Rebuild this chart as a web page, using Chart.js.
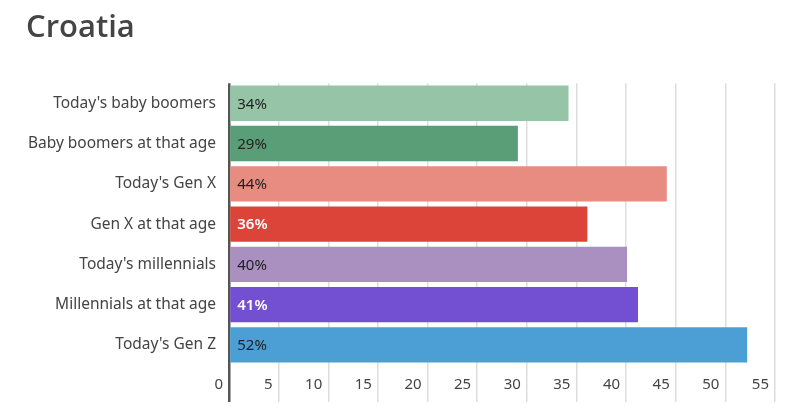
<!DOCTYPE html>
<html>
<head>
<meta charset="utf-8">
<script src="https://cdn.jsdelivr.net/npm/chart.js@4"></script>
<style>
  body { margin: 0; background: #fff; }
  #wrap { width: 795px; height: 412px; }
</style>
</head>
<body>
<div id="wrap"><canvas id="croatiaChart" width="795" height="412"></canvas></div>
<script>
// chart values
const categories = [
    "Today's baby boomers",
    "Baby boomers at that age",
    "Today's Gen X",
    "Gen X at that age",
    "Today's millennials",
    "Millennials at that age",
    "Today's Gen Z"
];
const shares = [34.2, 29.1, 44.1, 36.1, 40.1, 41.2, 52.2];
const tickValues = [0, 5, 10, 15, 20, 25, 30, 35, 40, 45, 50, 55];

// styling
const barColors = ['#96c4a6', '#5a9e77', '#e88b80', '#dc4439', '#aa8fc1', '#7350d1', '#4b9fd5'];
const whiteLabels = [false, false, false, true, false, true, false];
const fontFamily = "'Noto Sans', 'Open Sans', sans-serif";

// draw the "34%" style labels inside each bar
const barLabels = {
    id: 'barLabels',
    afterDatasetsDraw(chart) {
        const ctx = chart.ctx;
        const meta = chart.getDatasetMeta(0);
        ctx.save();
        ctx.textBaseline = 'middle';
        ctx.textAlign = 'left';
        meta.data.forEach((bar, i) => {
            const white = whiteLabels[i];
            ctx.font = (white ? '600 ' : '400 ') + '15px ' + fontFamily;
            ctx.fillStyle = white ? '#ffffff' : '#222222';
            ctx.fillText(Math.round(shares[i]) + '%', bar.base + 7, bar.y + 1);
        });
        ctx.restore();
    }
};

// x tick labels sit inside the long grid ticks, just left of each line
const xTickLabels = {
    id: 'xTickLabels',
    afterDraw(chart) {
        const ctx = chart.ctx;
        const xScale = chart.scales.x;
        ctx.save();
        ctx.font = '15px ' + fontFamily;
        ctx.fillStyle = '#444444';
        ctx.textAlign = 'right';
        ctx.textBaseline = 'middle';
        tickValues.forEach(v => {
            ctx.fillText(String(v), xScale.getPixelForValue(v) - 6, chart.chartArea.bottom + 20);
        });
        ctx.restore();
    }
};

new Chart(document.getElementById('croatiaChart'), {
    type: 'bar',
    data: {
        labels: categories,
        datasets: [{
            data: shares,
            backgroundColor: barColors,
            borderWidth: 0,
            barPercentage: 0.88,
            categoryPercentage: 1
        }]
    },
    options: {
        indexAxis: 'y',
        responsive: false,
        animation: false,
        layout: { padding: { left: 26, right: 20, top: 0, bottom: 10 } },
        plugins: {
            legend: { display: false },
            tooltip: { enabled: false },
            title: {
                display: true,
                text: 'Croatia',
                align: 'start',
                color: '#444444',
                font: { family: "'Open Sans', sans-serif", size: 31, weight: '600' },
                padding: { top: 10, bottom: 36 }
            }
        },
        scales: {
            x: {
                min: 0,
                max: 55,
                afterBuildTicks(scale) {
                    scale.ticks = tickValues.map(v => ({ value: v }));
                },
                grid: {
                    color: c => c.tick && c.tick.value === 0 ? '#555555' : '#dddddd',
                    lineWidth: c => c.tick && c.tick.value === 0 ? 2.5 : 1.5,
                    tickLength: 37
                },
                border: { display: false },
                ticks: { display: false }
            },
            y: {
                afterFit(scale) {
                    scale.width = 203;
                },
                grid: { display: false, drawTicks: false },
                border: { display: false },
                ticks: {
                    color: '#444444',
                    padding: 13,
                    font: { family: fontFamily, size: 15.5 }
                }
            }
        }
    },
    plugins: [barLabels, xTickLabels]
});
</script>
</body>
</html>
